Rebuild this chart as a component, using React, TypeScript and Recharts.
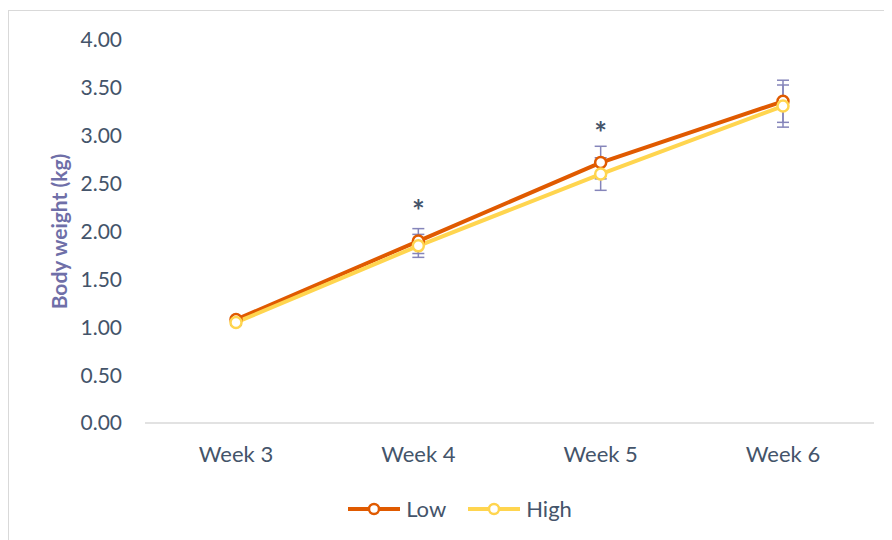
import { LineChart, Line, XAxis, YAxis, ErrorBar, Legend, LabelList } from 'recharts';

const weeks = ['Week 3', 'Week 4', 'Week 5', 'Week 6'];
const lowWeight = [1.08, 1.9, 2.72, 3.36];
const lowError = [0.03, 0.13, 0.17, 0.22];
const highWeight = [1.05, 1.85, 2.6, 3.31];
const highError = [0.03, 0.12, 0.17, 0.22];
const significance = ['', '*', '*', ''];
const yTicks = [0, 0.5, 1, 1.5, 2, 2.5, 3, 3.5, 4];

const LOW_COLOR = '#E05A00';
const HIGH_COLOR = '#FFD54F';
const TEXT_COLOR = '#44546A';
const ERR_COLOR = '#8585BA';
const FONT = 'Lato, "Open Sans", sans-serif';

const data = weeks.map((week, i) => ({
  week,
  low: lowWeight[i],
  lowErr: lowError[i],
  high: highWeight[i],
  highErr: highError[i],
  sig: significance[i],
}));

const legendItems = [
  { name: 'Low', color: LOW_COLOR },
  { name: 'High', color: HIGH_COLOR },
];

// asterisk above the Low point where the groups differ
function SigMark(props: any) {
  const { x, y, value } = props;
  if (!value) return null;
  return (
    <text x={x} y={y - 19} textAnchor="middle" fill={TEXT_COLOR} fontSize={30} fontWeight={700} fontFamily={FONT}>
      {value}
    </text>
  );
}

function ChartLegend() {
  return (
    <div style={{ display: 'flex', justifyContent: 'center', gap: 21, paddingLeft: 36, fontFamily: FONT, fontSize: 22, color: TEXT_COLOR }}>
      {legendItems.map(item => (
        <div key={item.name} style={{ display: 'flex', alignItems: 'center' }}>
          <svg width={54} height={16} style={{ marginRight: 5 }}>
            <line x1={1} y1={8} x2={53} y2={8} stroke={item.color} strokeWidth={4} />
            <circle cx={27} cy={8} r={5} fill="#fff" stroke={item.color} strokeWidth={2.5} />
          </svg>
          <span>{item.name}</span>
        </div>
      ))}
    </div>
  );
}

export default function App() {
  return (
    <div style={{ marginTop: 2, width: 884, height: 540, border: '1px solid #D9D9D9', boxSizing: 'border-box' }}>
      <LineChart width={880} height={530} data={data} margin={{ top: 29, right: 15, left: 0, bottom: 6 }}>
        <XAxis
          dataKey="week"
          padding={{ left: 91, right: 91 }}
          axisLine={{ stroke: '#D9D9D9', strokeWidth: 1.5 }}
          tickLine={false}
          tickSize={0}
          tickMargin={23}
          height={72}
          tick={{ fill: TEXT_COLOR, fontSize: 22, fontFamily: FONT }}
        />
        <YAxis
          domain={[0, 4]}
          ticks={yTicks}
          tickFormatter={(v: number) => v.toFixed(2)}
          axisLine={false}
          tickLine={false}
          tickSize={0}
          tickMargin={23}
          width={136}
          tick={{ fill: TEXT_COLOR, fontSize: 21, fontFamily: FONT }}
          label={{
            value: 'Body weight (kg)',
            angle: -90,
            position: 'insideLeft',
            offset: 51,
            style: { textAnchor: 'middle', fill: '#6F6FA8', fontSize: 21, fontWeight: 700, fontFamily: FONT },
          }}
        />
        <Legend verticalAlign="bottom" height={40} content={<ChartLegend />} />
        <Line
          dataKey="low"
          name="Low"
          stroke={LOW_COLOR}
          strokeWidth={4}
          dot={{ r: 5.5, fill: '#fff', stroke: LOW_COLOR, strokeWidth: 2.5 }}
          activeDot={false}
          isAnimationActive={false}
        >
          <ErrorBar dataKey="lowErr" width={6} stroke={ERR_COLOR} strokeWidth={1.5} direction="y" />
          <LabelList dataKey="sig" content={<SigMark />} />
        </Line>
        <Line
          dataKey="high"
          name="High"
          stroke={HIGH_COLOR}
          strokeWidth={4}
          dot={{ r: 5.5, fill: '#fff', stroke: HIGH_COLOR, strokeWidth: 2.5 }}
          activeDot={false}
          isAnimationActive={false}
        >
          <ErrorBar dataKey="highErr" width={6} stroke={ERR_COLOR} strokeWidth={1.5} direction="y" />
        </Line>
      </LineChart>
    </div>
  );
}
